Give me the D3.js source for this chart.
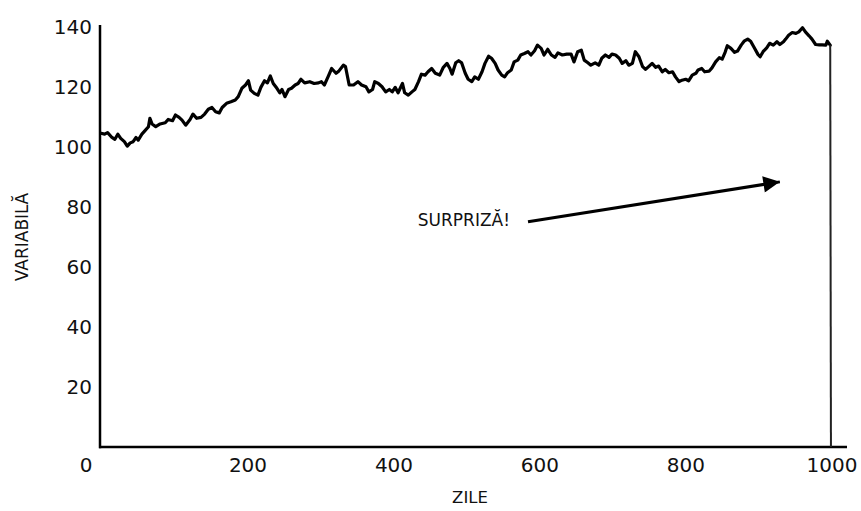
<!DOCTYPE html>
<html>
<head>
<meta charset="utf-8">
<script src="https://cdn.jsdelivr.net/npm/d3@7"></script>
<style>
  html, body { margin: 0; padding: 0; background: #fff; }
  svg { display: block; font-family: "DejaVu Sans", sans-serif; }
</style>
</head>
<body>
<svg id="chart" width="861" height="511"></svg>
<script>
// ---- data ----
const days = [
  0,5,9,15,19,23,27,32,36,40,
  44,48,51,56,60,65,67,70,75,81,
  88,92,98,102,107,111,116,122,126,131,
  137,142,147,152,157,162,166,172,178,184,
  188,193,198,202,205,210,215,219,224,228,
  232,236,241,245,248,252,257,261,266,270,
  274,279,286,292,298,302,306,311,316,322,
  326,332,335,340,346,352,357,363,367,372,
  375,380,385,390,395,399,403,407,413,416,
  421,426,430,435,439,444,448,453,458,464,
  469,474,478,481,486,490,494,499,503,508,
  512,517,522,526,531,535,540,544,549,553,
  557,562,566,571,575,580,585,589,594,598,
  603,607,612,617,622,626,632,638,644,648,
  653,658,662,667,671,677,682,686,691,696,
  700,705,710,714,719,723,728,732,737,742,
  746,751,755,760,764,769,773,778,783,787,
  792,796,801,805,810,815,818,823,827,833,
  837,842,847,851,855,858,863,868,872,877,
  881,886,890,895,900,903,907,912,916,921,
  926,930,935,938,942,947,952,956,961,965,
  970,974,979,984,988,993,995,999,1000
];
const values = [
  104.6,104.3,104.8,103.2,102.6,104.3,102.9,101.8,100.3,101.4,
  101.8,103.2,102.3,104.3,105.4,106.8,109.6,107.7,106.8,107.7,
  108.1,109.2,108.8,110.7,109.9,109.0,107.3,109.2,111.0,109.6,
  109.9,111.0,112.6,113.2,111.8,111.4,113.2,114.6,115.1,115.7,
  116.8,119.6,120.7,122.1,119.0,117.9,117.3,119.9,122.1,121.4,
  123.7,121.2,119.6,118.1,119.2,116.8,119.2,119.6,120.7,121.2,
  122.6,121.4,121.8,121.2,121.4,121.8,120.7,123.4,126.2,124.6,
  125.4,127.3,126.8,120.7,120.7,121.8,120.7,120.1,118.4,119.2,
  121.8,121.2,120.1,118.4,119.2,118.4,119.9,118.1,121.2,118.1,
  117.3,118.4,119.2,121.8,124.3,124.0,125.1,126.2,124.6,124.0,
  126.6,127.9,126.2,124.3,128.1,128.8,128.1,124.6,122.6,121.8,
  123.4,122.6,125.1,127.9,130.3,129.6,127.9,125.7,124.0,123.4,
  124.8,125.7,128.4,129.0,130.7,131.2,131.8,130.7,132.1,134.0,
  132.9,130.7,132.6,130.7,129.9,131.4,130.7,131.0,131.0,128.4,
  131.8,132.3,129.0,128.1,127.3,128.1,127.3,129.6,130.7,129.9,
  131.0,130.7,129.6,127.9,128.8,127.3,127.9,131.8,130.1,126.8,
  125.9,127.0,127.9,126.6,127.0,125.1,125.9,124.8,125.1,123.4,
  121.8,122.3,122.6,122.1,124.0,124.6,125.7,126.2,125.1,125.3,
  126.4,128.4,129.8,129.3,131.6,133.8,132.9,131.6,132.0,134.0,
  135.3,136.0,135.3,133.1,130.9,130.1,131.8,133.1,134.6,134.0,
  135.1,134.2,135.1,136.0,137.3,138.2,137.9,138.4,139.8,138.4,
  137.1,136.0,134.2,134.1,134.1,134.0,135.3,134.0,0
];
const xTicks = [0, 200, 400, 600, 800, 1000];
const yTicks = [20, 40, 60, 80, 100, 120, 140];
const xLabel = "ZILE";
const yLabel = "VARIABILĂ";
const noteText = "SURPRIZĂ!";
const noteFrom = [585, 75.1];   // arrow tail (day, value)
const noteTo = [930, 88.4];     // arrow head (day, value)
const noteTextAt = [434, 73.8];

// ---- layout ----
const svg = d3.select("#chart");
const x = d3.scaleLinear().domain([0, 1022]).range([101, 847]);
const y = d3.scaleLinear().domain([0, 140.7]).range([447, 25]);

const pts = days.map((d, i) => [d, values[i]]);

// axes lines (spines)
svg.append("line")
  .attr("x1", x(0) - 1).attr("x2", x(0) - 1)
  .attr("y1", y.range()[1]).attr("y2", y(0) + 1.2)
  .attr("stroke", "#000").attr("stroke-width", 2.5);
svg.append("line")
  .attr("x1", x(0) - 2).attr("x2", x.range()[1])
  .attr("y1", y(0)).attr("y2", y(0))
  .attr("stroke", "#000").attr("stroke-width", 2.5);

// tick labels
svg.append("g").selectAll("text").data(yTicks).join("text")
  .attr("x", 92).attr("y", d => y(d))
  .attr("dy", "0.36em")
  .attr("text-anchor", "end")
  .attr("font-size", 20)
  .attr("fill", "#111")
  .text(d => d);

svg.append("g").selectAll("text").data(xTicks).join("text")
  .attr("x", d => x(d) + (d === 0 ? -15 : 1))
  .attr("y", 472)
  .attr("text-anchor", "middle")
  .attr("font-size", 20)
  .attr("fill", "#111")
  .text(d => d);

// axis titles
svg.append("text")
  .attr("x", 470).attr("y", 503)
  .attr("text-anchor", "middle")
  .attr("font-size", 16.5)
  .attr("fill", "#111")
  .text(xLabel);
svg.append("text")
  .attr("transform", "translate(28,237) rotate(-90)")
  .attr("text-anchor", "middle")
  .attr("font-size", 17)
  .attr("fill", "#111")
  .text(yLabel);

// data line
const line = d3.line().x(d => x(d[0])).y(d => y(d[1]));
svg.append("path")
  .datum(pts.slice(0, pts.length - 1))
  .attr("d", line)
  .attr("fill", "none")
  .attr("stroke", "#000")
  .attr("stroke-width", 3.2)
  .attr("stroke-linejoin", "round")
  .attr("stroke-linecap", "round");
svg.append("path")
  .datum(pts.slice(pts.length - 2))
  .attr("d", line)
  .attr("fill", "none")
  .attr("stroke", "#222")
  .attr("stroke-width", 2);

// annotation
svg.append("defs").append("marker")
  .attr("id", "head")
  .attr("viewBox", "0 0 10 10")
  .attr("refX", 10).attr("refY", 5)
  .attr("markerWidth", 8.5).attr("markerHeight", 5.5)
  .attr("markerUnits", "strokeWidth")
  .attr("orient", "auto")
  .append("path").attr("d", "M0,0 L10,5 L0,10 Z").attr("fill", "#000");

svg.append("line")
  .attr("x1", x(noteFrom[0])).attr("y1", y(noteFrom[1]))
  .attr("x2", x(noteTo[0])).attr("y2", y(noteTo[1]))
  .attr("stroke", "#000").attr("stroke-width", 3)
  .attr("marker-end", "url(#head)");

svg.append("text")
  .attr("x", x(noteTextAt[0])).attr("y", y(noteTextAt[1]))
  .attr("font-size", 17)
  .attr("fill", "#111")
  .text(noteText);
</script>
</body>
</html>
